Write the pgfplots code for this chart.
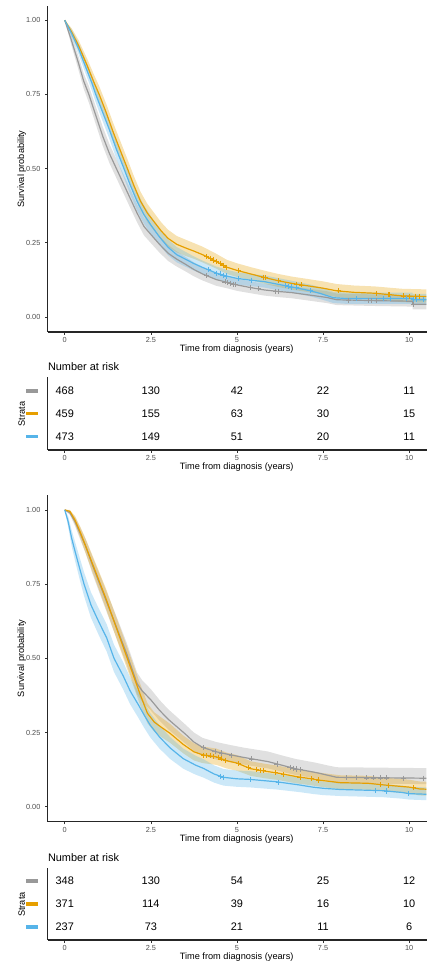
\documentclass[border=0pt]{standalone}
\usepackage{fontspec}
\setmainfont{Liberation Sans}
\usepackage{pgfplots}
\usepackage{pgfplotstable}
\pgfplotsset{compat=1.18}
\usepgfplotslibrary{fillbetween}
\definecolor{cgrey}{HTML}{999999}
\definecolor{corange}{HTML}{E69F00}
\definecolor{cblue}{HTML}{56B4E9}
\definecolor{ticktext}{HTML}{4D4D4D}

% ---------------- top panel ----------------
\pgfplotstableread{
t S lo hi
0 1.000 1.000 1.000
0.2 0.930 0.913 0.947
0.4 0.855 0.832 0.878
0.55 0.795 0.769 0.821
0.7 0.750 0.722 0.778
0.9 0.680 0.650 0.710
1.1 0.610 0.578 0.642
1.3 0.550 0.518 0.582
1.5 0.500 0.468 0.532
1.7 0.450 0.418 0.482
1.9 0.400 0.368 0.432
2.1 0.350 0.319 0.381
2.3 0.305 0.275 0.335
2.5 0.278 0.249 0.307
2.75 0.245 0.217 0.273
3.0 0.215 0.189 0.243
3.25 0.195 0.170 0.221
3.5 0.178 0.154 0.203
3.75 0.160 0.137 0.184
4.0 0.145 0.123 0.168
4.4 0.126 0.105 0.148
4.7 0.117 0.097 0.138
5.0 0.108 0.088 0.129
5.4 0.099 0.080 0.120
5.8 0.091 0.072 0.112
6.2 0.086 0.067 0.107
6.6 0.082 0.063 0.103
7.1 0.074 0.055 0.095
7.6 0.066 0.047 0.087
7.9 0.058 0.040 0.079
9.0 0.055 0.037 0.076
10.1 0.053 0.035 0.074
10.1 0.043 0.026 0.064
10.5 0.043 0.026 0.064
}\AgreyT
\pgfplotstableread{
t S lo hi
0 1.000 1.000 1.000
0.2 0.960 0.947 0.973
0.4 0.915 0.897 0.933
0.66 0.845 0.822 0.868
0.85 0.790 0.764 0.816
1.0 0.750 0.722 0.778
1.2 0.690 0.660 0.720
1.4 0.625 0.594 0.656
1.6 0.565 0.533 0.597
1.82 0.500 0.468 0.532
2.0 0.445 0.413 0.477
2.2 0.390 0.358 0.422
2.4 0.350 0.319 0.381
2.6 0.320 0.290 0.350
2.8 0.290 0.261 0.319
3.0 0.265 0.237 0.294
3.25 0.245 0.218 0.273
3.5 0.233 0.206 0.261
3.75 0.222 0.196 0.249
4.0 0.210 0.184 0.237
4.4 0.187 0.163 0.213
4.7 0.168 0.145 0.193
5.0 0.157 0.135 0.181
5.4 0.145 0.124 0.168
5.8 0.133 0.112 0.156
6.2 0.122 0.101 0.145
6.6 0.113 0.092 0.136
7.0 0.106 0.085 0.129
7.5 0.097 0.076 0.120
7.9 0.088 0.067 0.111
8.4 0.083 0.062 0.106
9.0 0.080 0.059 0.103
9.8 0.071 0.050 0.095
10.5 0.069 0.048 0.093
}\AorangeT
\pgfplotstableread{
t S lo hi
0 1.000 1.000 1.000
0.2 0.955 0.941 0.969
0.4 0.905 0.886 0.924
0.6 0.845 0.822 0.868
0.8 0.785 0.759 0.811
0.9 0.750 0.722 0.778
1.1 0.690 0.660 0.720
1.3 0.630 0.599 0.661
1.5 0.565 0.533 0.597
1.72 0.500 0.468 0.532
1.9 0.445 0.413 0.477
2.1 0.390 0.358 0.422
2.3 0.345 0.314 0.376
2.5 0.310 0.280 0.340
2.75 0.270 0.242 0.298
3.0 0.235 0.208 0.262
3.25 0.210 0.184 0.236
3.5 0.195 0.170 0.220
3.75 0.180 0.156 0.204
4.0 0.167 0.144 0.190
4.4 0.148 0.126 0.170
4.7 0.138 0.117 0.159
5.0 0.130 0.109 0.151
5.4 0.124 0.104 0.145
5.8 0.119 0.099 0.140
6.2 0.110 0.090 0.131
6.6 0.101 0.081 0.122
7.1 0.089 0.070 0.110
7.4 0.080 0.061 0.101
7.8 0.065 0.047 0.085
8.2 0.062 0.044 0.082
10.1 0.062 0.044 0.082
10.1 0.058 0.040 0.078
10.5 0.058 0.040 0.078
}\AblueT
\pgfplotstableread{
t S
4.12 0.139
4.65 0.118
4.72 0.116
4.80 0.114
4.90 0.111
4.96 0.109
5.38 0.099
5.62 0.095
6.11 0.087
6.20 0.086
8.24 0.057
8.82 0.056
8.91 0.056
9.06 0.055
10.12 0.043
}\AgreyC
\pgfplotstableread{
t S
4.12 0.203
4.22 0.197
4.32 0.192
4.41 0.186
4.51 0.180
4.60 0.174
4.70 0.168
5.04 0.156
5.77 0.134
5.82 0.132
6.20 0.122
6.73 0.111
6.88 0.108
7.94 0.088
9.06 0.079
9.40 0.075
9.44 0.075
9.83 0.071
10.02 0.070
10.17 0.070
10.31 0.069
}\AorangeC
\pgfplotstableread{
t S
4.17 0.159
4.41 0.148
4.51 0.145
4.61 0.141
4.70 0.138
5.04 0.129
5.43 0.124
6.40 0.106
6.49 0.104
6.59 0.101
6.74 0.098
7.12 0.088
8.48 0.062
9.25 0.062
9.45 0.062
9.93 0.062
10.12 0.058
10.22 0.058
10.41 0.058
}\AblueC
\pgfplotstableread{
t r n
0 3 468
2.5 3 130
5 3 42
7.5 3 22
10 3 11
0 2 459
2.5 2 155
5 2 63
7.5 2 30
10 2 15
0 1 473
2.5 1 149
5 1 51
7.5 1 20
10 1 11
}\Arisk

% ---------------- bottom panel ----------------
\pgfplotstableread{
t S lo hi
0 1.000 1.000 1.000
0.15 0.990 0.983 0.997
0.3 0.960 0.945 0.975
0.45 0.920 0.900 0.940
0.6 0.880 0.856 0.904
0.8 0.815 0.786 0.844
1.0 0.755 0.723 0.787
1.2 0.695 0.661 0.729
1.4 0.635 0.599 0.671
1.6 0.575 0.538 0.612
1.8 0.515 0.478 0.552
1.95 0.465 0.428 0.502
2.1 0.415 0.378 0.452
2.25 0.390 0.354 0.426
2.5 0.360 0.324 0.396
2.75 0.325 0.290 0.360
3.0 0.295 0.261 0.329
3.25 0.270 0.237 0.303
3.5 0.245 0.213 0.277
3.75 0.218 0.188 0.250
4.0 0.200 0.172 0.232
4.4 0.185 0.159 0.218
4.8 0.175 0.150 0.208
5.2 0.166 0.142 0.199
5.9 0.152 0.129 0.186
6.3 0.140 0.118 0.173
6.7 0.128 0.107 0.161
7.3 0.115 0.095 0.148
7.6 0.107 0.087 0.140
7.9 0.099 0.079 0.133
10.5 0.096 0.076 0.130
}\BgreyT
\pgfplotstableread{
t S lo hi
0 1.000 1.000 1.000
0.15 0.995 0.990 1.000
0.3 0.965 0.951 0.979
0.45 0.925 0.906 0.944
0.6 0.880 0.856 0.904
0.8 0.820 0.792 0.848
1.0 0.760 0.729 0.791
1.2 0.700 0.666 0.734
1.4 0.635 0.600 0.670
1.6 0.570 0.534 0.606
1.8 0.505 0.468 0.542
2.0 0.440 0.404 0.476
2.2 0.375 0.339 0.411
2.4 0.315 0.281 0.349
2.6 0.285 0.252 0.318
2.8 0.268 0.235 0.301
3.06 0.247 0.215 0.279
3.44 0.210 0.180 0.240
3.75 0.185 0.156 0.214
4.0 0.175 0.147 0.203
4.4 0.168 0.141 0.196
4.7 0.155 0.129 0.182
5.0 0.147 0.121 0.174
5.4 0.128 0.104 0.153
5.8 0.120 0.096 0.145
6.2 0.113 0.090 0.138
6.7 0.102 0.079 0.127
7.1 0.095 0.073 0.120
7.5 0.088 0.066 0.113
8.0 0.081 0.059 0.106
8.8 0.079 0.057 0.104
9.3 0.073 0.051 0.098
10.0 0.066 0.044 0.091
10.3 0.060 0.038 0.085
10.5 0.059 0.037 0.084
}\BorangeT
\pgfplotstableread{
t S lo hi
0 1.000 1.000 1.000
0.1 0.960 0.942 0.978
0.2 0.905 0.878 0.932
0.3 0.860 0.828 0.892
0.44 0.800 0.763 0.837
0.56 0.750 0.710 0.790
0.76 0.680 0.637 0.723
1.0 0.620 0.575 0.665
1.22 0.568 0.522 0.614
1.43 0.500 0.454 0.546
1.7 0.440 0.394 0.486
1.9 0.390 0.345 0.435
2.14 0.343 0.299 0.387
2.3 0.310 0.267 0.353
2.48 0.275 0.234 0.316
2.75 0.235 0.196 0.274
3.06 0.198 0.161 0.235
3.44 0.162 0.128 0.196
3.8 0.140 0.108 0.172
4.03 0.129 0.098 0.160
4.34 0.110 0.081 0.139
4.61 0.099 0.071 0.127
5.0 0.094 0.067 0.122
5.38 0.092 0.065 0.120
6.15 0.084 0.058 0.110
6.83 0.073 0.049 0.098
7.2 0.066 0.043 0.090
7.51 0.062 0.039 0.085
8.0 0.058 0.036 0.081
9.25 0.054 0.032 0.077
9.8 0.048 0.027 0.071
10.0 0.044 0.024 0.067
10.5 0.042 0.022 0.065
}\BblueT
\pgfplotstableread{
t S
4.03 0.199
4.36 0.187
4.56 0.181
4.85 0.174
5.43 0.161
6.16 0.144
6.54 0.133
6.64 0.130
6.74 0.127
6.83 0.125
8.19 0.098
8.48 0.098
8.77 0.097
8.96 0.097
9.16 0.097
9.35 0.097
9.83 0.096
10.41 0.096
}\BgreyC
\pgfplotstableread{
t S
4.03 0.174
4.12 0.172
4.22 0.171
4.32 0.169
4.46 0.165
4.56 0.161
4.66 0.157
5.04 0.145
5.33 0.131
5.57 0.125
5.67 0.123
5.77 0.121
6.11 0.115
6.35 0.109
6.83 0.100
7.17 0.094
7.37 0.090
9.16 0.075
9.40 0.072
10.12 0.064
}\BorangeC
\pgfplotstableread{
t S
4.51 0.103
4.61 0.099
5.38 0.092
6.20 0.083
9.01 0.055
9.35 0.053
9.98 0.044
}\BblueC
\pgfplotstableread{
t r n
0 3 348
2.5 3 130
5 3 54
7.5 3 25
10 3 12
0 2 371
2.5 2 114
5 2 39
7.5 2 16
10 2 10
0 1 237
2.5 1 73
5 1 21
7.5 1 11
10 1 6
}\Brisk

\pgfplotsset{
  kmbase/.style={
    scale only axis, width=284.5pt, anchor=south west,
    xmin=-0.494, xmax=10.52,
    axis lines*=left,
    axis line style={line width=0.8pt, black!85},
    tick align=outside,
    major tick length=2pt,
    tick style={line width=0.5pt, color=black!80},
    xtick={0,2.5,5,7.5,10},
    xticklabels={0,2.5,5,7.5,10},
    ticklabel style={font=\fontsize{5.5}{6}\selectfont, text=ticktext},
    xticklabel style={yshift=1.5pt},
    /pgf/number format/assume math mode=true,
    xlabel={Time from diagnosis (years)},
    label style={font=\fontsize{6.9}{8}\selectfont},
    xlabel style={at={(axis description cs:0.498,0)}, anchor=center, yshift=-13pt},
  },
  kmmain/.style={
    kmbase, ylabel={Survival probability},
    ylabel style={at={(axis description cs:-0.0686,0.5)}, anchor=center},
    ytick={0,0.25,0.5,0.75,1},
    yticklabels={0.00,0.25,0.50,0.75,1.00},
  },
  kmtab/.style={
    kmbase, ylabel={Strata},
    ylabel style={at={(axis description cs:-0.0686,0.495)}, anchor=center},
    ytick={1,2,3},
    yticklabels={{\textcolor{cblue}{\rule{8.75pt}{2.4pt}}},{\textcolor{corange}{\rule{8.75pt}{2.4pt}}},{\textcolor{cgrey}{\rule{8.75pt}{2.4pt}}}},
    y tick style={draw=none},
    yticklabel style={xshift=-2pt},
    title={Number at risk},
    title style={at={(axis description cs:0,1)}, anchor=west, inner sep=0pt, yshift=2pt, font=\fontsize{8.2}{9}\selectfont},
  },
  band/.style={fill=#1, fill opacity=0.3, draw=none},
  curve/.style={color=#1, line width=0.9pt, sharp plot},
  cens/.style={only marks, mark=+, mark size=1.9pt, color=#1, mark options={line width=0.6pt}},
  risknums/.style={only marks, mark=none, nodes near coords, point meta=explicit symbolic,
    nodes near coords style={anchor=center, font=\fontsize{8.2}{9}\selectfont, text=black}},
}

\begin{document}
\begin{tikzpicture}

% ===== top survival panel =====
\begin{axis}[kmmain, at={(35.8pt,474pt)}, height=244.5pt, ymin=-0.0506, ymax=1.048]
\addplot[name path=gu, draw=none, forget plot] table[x=t,y=hi] {\AgreyT};
\addplot[name path=gl, draw=none, forget plot] table[x=t,y=lo] {\AgreyT};
\addplot[band=cgrey] fill between[of=gu and gl];
\addplot[name path=ou, draw=none, forget plot] table[x=t,y=hi] {\AorangeT};
\addplot[name path=ol, draw=none, forget plot] table[x=t,y=lo] {\AorangeT};
\addplot[band=corange] fill between[of=ou and ol];
\addplot[name path=bu, draw=none, forget plot] table[x=t,y=hi] {\AblueT};
\addplot[name path=bl, draw=none, forget plot] table[x=t,y=lo] {\AblueT};
\addplot[band=cblue] fill between[of=bu and bl];
\addplot[curve=cgrey] table[x=t,y=S] {\AgreyT};
\addplot[curve=corange] table[x=t,y=S] {\AorangeT};
\addplot[curve=cblue] table[x=t,y=S] {\AblueT};
\addplot[cens=cgrey] table[x=t,y=S] {\AgreyC};
\addplot[cens=corange] table[x=t,y=S] {\AorangeC};
\addplot[cens=cblue] table[x=t,y=S] {\AblueC};
\end{axis}

% ===== top risk table =====
\begin{axis}[kmtab, at={(35.8pt,385.5pt)}, height=54.5pt, ymin=0.418, ymax=3.6]
\addplot[risknums] table[x=t,y=r,meta=n] {\Arisk};
\end{axis}

% ===== bottom survival panel =====
\begin{axis}[kmmain, at={(35.8pt,106.7pt)}, height=245pt, ymin=-0.0506, ymax=1.05]
\addplot[name path=gu, draw=none, forget plot] table[x=t,y=hi] {\BgreyT};
\addplot[name path=gl, draw=none, forget plot] table[x=t,y=lo] {\BgreyT};
\addplot[band=cgrey] fill between[of=gu and gl];
\addplot[name path=ou, draw=none, forget plot] table[x=t,y=hi] {\BorangeT};
\addplot[name path=ol, draw=none, forget plot] table[x=t,y=lo] {\BorangeT};
\addplot[band=corange] fill between[of=ou and ol];
\addplot[name path=bu, draw=none, forget plot] table[x=t,y=hi] {\BblueT};
\addplot[name path=bl, draw=none, forget plot] table[x=t,y=lo] {\BblueT};
\addplot[band=cblue] fill between[of=bu and bl];
\addplot[curve=cgrey] table[x=t,y=S] {\BgreyT};
\addplot[curve=corange] table[x=t,y=S] {\BorangeT};
\addplot[curve=cblue] table[x=t,y=S] {\BblueT};
\addplot[cens=cgrey] table[x=t,y=S] {\BgreyC};
\addplot[cens=corange] table[x=t,y=S] {\BorangeC};
\addplot[cens=cblue] table[x=t,y=S] {\BblueC};
\end{axis}

% ===== bottom risk table =====
\begin{axis}[kmtab, at={(35.8pt,18pt)}, height=53.8pt, ymin=0.435, ymax=3.55]
\addplot[risknums] table[x=t,y=r,meta=n] {\Brisk};
\end{axis}

\pgfresetboundingbox
\useasboundingbox (0,0) rectangle (321pt,723pt);
\end{tikzpicture}
\end{document}
